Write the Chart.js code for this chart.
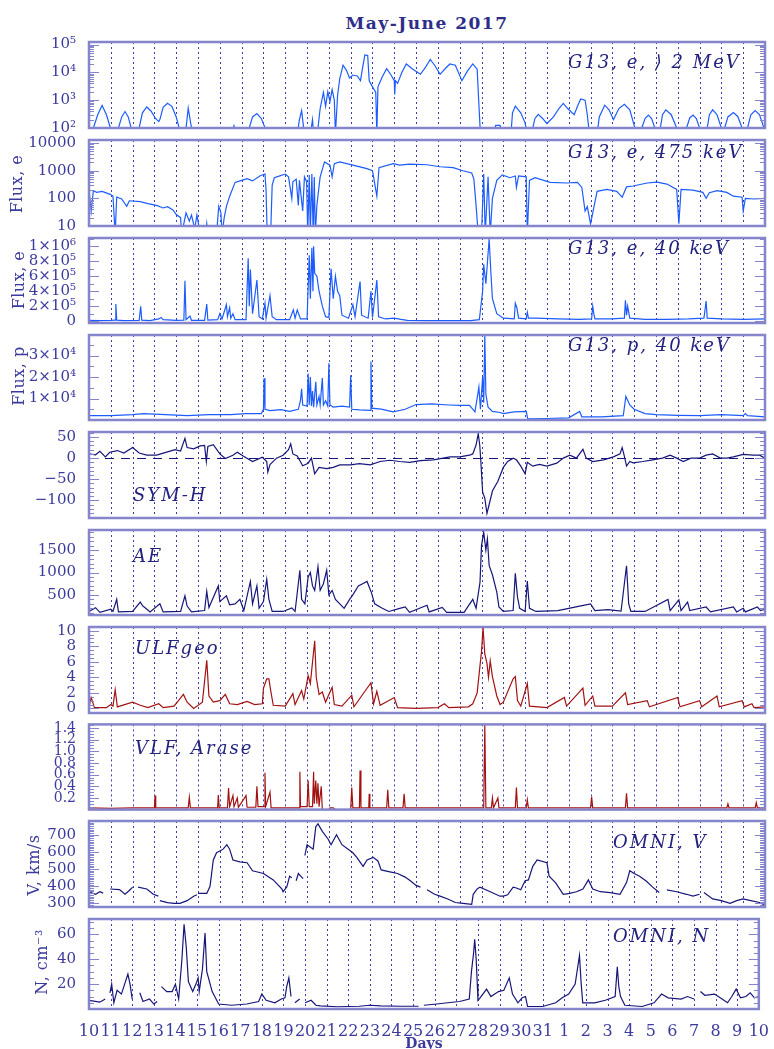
<!DOCTYPE html>
<html>
<head>
<meta charset="utf-8">
<script src="https://cdn.jsdelivr.net/npm/chart.js@4.4.0/dist/chart.umd.min.js"></script>
<style>
  body { margin: 0; background: #fff; }
  #wrap { position: relative; width: 774px; height: 1049px; overflow: hidden; }
  #wrap canvas { position: absolute; left: 0; }
  #title {
    position: absolute; left: 0; top: 13px; width: 854px; text-align: center;
    font: bold 17px "DejaVu Serif"; letter-spacing: 1.5px; color: #2e2e8a; line-height: 20px;
  }
</style>
</head>
<body>
<div id="wrap">
  <div id="title">May-June 2017</div>
</div>
<script>
// x axis: days since 10 May 2017, 00 UT
const dayLabels = ['10','11','12','13','14','15','16','17','18','19','20','21','22','23','24','25',
  '26','27','28','29','30','31','1','2','3','4','5','6','7','8','9','10'];

// [day, value] pairs
const e2MeV = [
  [0,60],[0.2,100],[0.4,300],[0.6,650],[0.8,300],[1.0,90],[1.1,60],
  [1.35,100],[1.5,250],[1.65,390],[1.8,250],[1.95,90],[2.1,60],
  [2.3,100],[2.45,350],[2.65,570],[2.85,400],[3.05,220],[3.2,170],[3.25,200],[3.4,550],[3.6,770],[3.8,600],[4.0,250],[4.15,90],[4.3,60],
  [4.45,100],[4.55,520],[4.7,100],[4.8,60],
  [6.55,60],[6.65,120],[6.75,60],
  [7.35,100],[7.5,250],[7.7,330],[7.9,220],[8.1,90],[8.2,60],
  [9.55,60],[9.65,200],[9.75,420],[9.85,90],[9.95,60],
  [10.15,60],[10.25,200],[10.3,60],[10.4,60],
  [10.5,100],[10.6,500],[10.75,1900],[10.85,600],[10.95,2000],[11.05,900],[11.15,2400],[11.25,1000],[11.3,60],
  [11.4,1500],[11.5,6000],[11.65,18000],[11.8,12000],[11.95,6300],[12.1,8000],[12.3,7400],[12.45,5000],
  [12.55,15000],[12.65,42000],[12.78,40000],[12.85,5000],[13.0,3000],[13.15,1900],[13.2,60],[13.25,3000],
  [13.45,7000],[13.65,13500],[13.85,8000],[14.0,5000],[14.02,1600],[14.05,5000],[14.15,4000],[14.35,10000],
  [14.55,20000],[14.85,13000],[15.2,8500],[15.45,16000],[15.65,29000],[15.85,18000],[16.1,8500],[16.35,14000],
  [16.55,20000],[16.8,18000],[17.1,5000],[17.35,11000],[17.6,20000],[17.8,13000],[17.87,1000],[17.95,60],
  [18.55,60],[18.65,125],[18.85,125],[18.95,60],
  [19.35,60],[19.42,350],[19.55,610],[19.8,350],[20.0,150],[20.1,60],
  [20.35,100],[20.45,220],[20.6,310],[20.8,220],[21.0,145],[21.3,250],[21.55,500],[21.75,770],[21.95,500],
  [22.25,300],[22.4,600],[22.55,1100],[22.75,1000],[22.85,300],[22.95,60],
  [23.3,60],[23.4,250],[23.65,660],[23.85,450],[24.05,200],[24.3,500],[24.55,710],[24.8,450],[25.05,90],[25.15,60],
  [25.35,100],[25.5,220],[25.65,290],[25.8,220],[25.95,100],[26.05,60],
  [26.2,100],[26.3,300],[26.45,450],[26.7,300],[26.95,100],[27.05,60],
  [27.4,100],[27.55,230],[27.7,290],[27.85,220],[28.0,100],[28.1,60],
  [28.35,100],[28.45,300],[28.6,450],[28.8,300],[29.0,100],[29.08,60],
  [29.15,100],[29.3,250],[29.55,360],[29.75,260],[29.95,100],[30.05,60],
  [30.2,100],[30.35,300],[30.55,420],[30.75,300],[30.95,100],[31,60]
];

const e475 = [
  [0,210],[0.1,35],[0.2,190],[0.35,165],[0.6,180],[0.97,140],[1.1,120],[1.2,5],[1.27,112],[1.5,95],[1.73,52],
  [1.85,82],[2.35,76],[2.7,65],[3.1,56],[3.4,45],[3.6,50],[3.85,38],[4.0,26],[4.2,20],[4.25,5],[4.45,30],
  [4.6,15],[4.7,25],[4.85,8],[4.95,25],[5.1,5],
  [5.35,5],[5.4,12],[5.45,5],
  [5.85,5],[5.95,52],[6.05,30],[6.1,5],[6.2,20],[6.3,50],[6.45,120],[6.7,380],[7.0,450],[7.25,520],[7.5,430],
  [7.85,660],[8.07,760],[8.12,200],[8.17,5],[8.33,5],[8.4,300],[8.5,560],[8.75,650],[9.0,760],[9.15,600],
  [9.3,100],[9.35,400],[9.5,500],[9.6,56],[9.65,450],[9.8,35],[9.88,600],[9.98,400],[10.03,5],[10.1,700],
  [10.15,5],[10.22,760],[10.28,5],[10.33,600],[10.38,5],[10.45,56],[10.6,600],[10.8,2100],[11.05,1600],
  [11.15,600],[11.25,1800],[11.5,2100],[12.1,1600],[12.75,1200],[13.0,1000],[13.2,120],[13.3,1300],
  [13.95,1800],[14.25,1600],[14.7,1750],[15.5,1650],[16.1,1400],[16.7,1300],[17.15,1000],[17.55,830],
  [17.65,500],[17.75,56],[17.85,5],[18.0,5],[18.1,760],[18.17,5],[18.3,600],[18.4,5],[18.5,100],[18.7,450],
  [18.95,710],[19.3,560],[19.55,650],[19.6,250],[19.7,650],[20.05,600],[20.1,5],[20.2,450],[20.45,560],
  [21.15,380],[21.9,360],[22.4,380],[22.6,250],[22.75,35],[22.85,50],[23.0,12],[23.3,180],[23.75,210],
  [24.2,180],[24.45,110],[24.65,260],[24.95,280],[25.6,360],[26.05,390],[26.5,330],[26.95,210],[27.05,12],
  [27.15,210],[27.7,200],[28.15,165],[28.3,100],[28.45,160],[28.8,190],[29.25,165],[29.55,120],[29.95,110],
  [30.0,35],[30.1,100],[30.5,95],[31,100]
];

const e40 = [
  [0,12000],[0.5,8000],[1.0,10000],[1.2,15000],[1.23,230000],[1.27,15000],[1.6,8000],[2.3,10000],[2.37,200000],
  [2.42,15000],[2.8,8000],[3.2,30000],[3.3,50000],[3.4,20000],[4.0,10000],[4.35,15000],[4.4,540000],[4.45,20000],
  [4.63,70000],[4.7,12000],[5.3,10000],[5.4,230000],[5.45,15000],[5.9,20000],[6.0,100000],[6.1,30000],
  [6.3,220000],[6.35,60000],[6.45,180000],[6.5,40000],[6.6,100000],[6.7,20000],[7.2,20000],[7.3,840000],
  [7.35,200000],[7.4,690000],[7.5,100000],[7.7,550000],[7.8,60000],[7.95,30000],[8.07,240000],[8.12,40000],
  [8.3,340000],[8.4,60000],[8.6,20000],[9.2,20000],[9.37,150000],[9.45,40000],[9.55,150000],[9.7,30000],
  [10.0,30000],[10.1,880000],[10.15,300000],[10.22,980000],[10.27,400000],[10.3,1000000],[10.35,640000],
  [10.45,600000],[10.55,400000],[10.7,200000],[10.85,60000],[11.0,50000],[11.1,700000],[11.2,300000],
  [11.3,600000],[11.4,400000],[11.5,340000],[11.6,80000],[11.9,40000],[12.1,220000],[12.2,60000],
  [12.43,530000],[12.5,80000],[12.8,40000],[12.93,400000],[13.0,50000],[13.2,550000],[13.28,60000],
  [13.6,30000],[14.0,40000],[14.3,25000],[14.6,12000],[15.5,8000],[16.5,8000],[17.5,8000],[17.9,20000],
  [18.05,400000],[18.1,760000],[18.2,500000],[18.35,1100000],[18.42,700000],[18.5,300000],[18.7,100000],
  [19.0,40000],[19.5,30000],[19.55,240000],[19.62,180000],[19.7,40000],[20.05,30000],[20.1,120000],
  [20.15,40000],[20.5,40000],[21.5,30000],[22.5,25000],[23.05,30000],[23.1,200000],[23.15,100000],
  [23.2,30000],[24.0,30000],[24.55,40000],[24.6,280000],[24.65,80000],[24.7,200000],[24.8,40000],
  [25.5,25000],[26.5,25000],[27.5,30000],[28.2,40000],[28.3,270000],[28.35,40000],[29.0,30000],
  [30.0,25000],[31,30000]
];

const p40 = [
  [0,2000],[1.0,2000],[2.0,2500],[2.5,3000],[3.5,2500],[4.5,2000],[5.5,2500],[6.5,2500],[7.2,3000],[7.9,3000],
  [8.0,5000],[8.03,19500],[8.07,5000],[8.3,4400],[8.8,4800],[9.2,4000],[9.6,5000],[9.7,9300],[9.75,14500],
  [9.8,7000],[10.0,6500],[10.05,21700],[10.1,7000],[10.15,20000],[10.2,6500],[10.25,13500],[10.3,6000],
  [10.4,17800],[10.45,7000],[10.55,11000],[10.6,7000],[10.7,19500],[10.75,7000],[10.85,9000],[10.95,6500],
  [11.0,26400],[11.05,7000],[11.2,6000],[11.6,6500],[11.95,6000],[12.0,20800],[12.05,5000],[12.4,4700],
  [12.9,4500],[12.93,27200],[12.97,5500],[13.4,5100],[13.95,3800],[14.5,5000],[15.0,7200],[15.7,7500],
  [16.5,7000],[17.0,6800],[17.45,6800],[17.7,3800],[17.88,15300],[17.95,5000],[18.05,20000],[18.1,8000],
  [18.15,39500],[18.2,12000],[18.3,6000],[18.5,4000],[18.85,3500],[19.0,3000],[19.5,3800],[20.05,4000],
  [20.12,500],[21.0,700],[22.0,1000],[22.5,4000],[22.6,1500],[23.5,1500],[24.5,2000],[24.62,11000],
  [24.8,7000],[25.0,5000],[25.5,3000],[26,2500],[27,2200],[28,2000],[29,2500],[30,2000],[30.1,3000],
  [30.2,2000],[31,1500]
];

const symH = [
  [0,10],[0.3,8],[0.5,16],[0.75,3],[0.95,14],[1.3,18],[1.6,12],[2.0,25],[2.3,12],[2.65,7],[3.1,7],[3.6,15],
  [3.95,20],[4.2,17],[4.4,47],[4.5,25],[4.8,22],[5.1,29],[5.3,30],[5.38,-8],[5.45,28],[5.7,32],[6.0,10],
  [6.25,-1],[6.6,7],[6.8,14],[7.07,5],[7.5,-8],[7.95,2],[8.15,-8],[8.2,-33],[8.3,-15],[8.6,0],[8.9,7],
  [9.15,20],[9.25,34],[9.35,10],[9.55,5],[9.8,-18],[10.05,-12],[10.2,0],[10.35,-37],[10.55,-22],[10.9,-25],
  [11.2,-22],[11.5,-16],[12.0,-16],[12.4,-13],[12.9,-16],[13.35,-8],[13.8,-5],[14.25,-8],[14.7,-10],
  [15.2,-6],[15.8,-4],[16.55,3],[17.0,3],[17.45,7],[17.6,10],[17.75,31],[17.85,58],[17.92,30],[17.97,-8],
  [18.05,-80],[18.15,-95],[18.25,-131],[18.35,-110],[18.5,-78],[18.75,-55],[19.0,-22],[19.2,-8],[19.45,0],
  [19.6,-4],[19.8,-19],[20.0,-37],[20.1,-10],[20.35,-19],[20.65,-15],[21.0,-19],[21.45,-12],[21.75,0],
  [22.05,7],[22.35,0],[22.65,21],[22.8,0],[23.1,-8],[23.6,-4],[24.05,3],[24.35,10],[24.45,25],[24.55,5],
  [24.65,-19],[24.8,-8],[24.95,-11],[25.4,-8],[25.85,-4],[26.3,0],[26.65,7],[26.95,0],[27.25,-8],[27.6,0],
  [28.0,0],[28.3,7],[28.6,10],[28.95,0],[29.25,0],[29.55,3],[30.0,9],[30.45,7],[30.75,7],[31,0]
];

const ae = [
  [0,130],[0.3,215],[0.5,110],[1.0,180],[1.1,130],[1.27,400],[1.35,120],[2.0,130],[2.35,340],[2.45,260],
  [2.6,200],[2.8,120],[3.25,300],[3.4,120],[4.2,130],[4.4,480],[4.5,250],[4.7,120],[5.3,150],[5.4,580],
  [5.5,220],[5.93,700],[6.0,350],[6.3,480],[6.45,280],[6.7,300],[6.92,400],[7.1,150],[7.4,800],[7.5,300],
  [7.7,700],[7.8,200],[8.0,350],[8.15,850],[8.25,400],[8.4,130],[8.9,130],[9.3,210],[9.45,130],[9.67,1050],
  [9.75,400],[9.9,300],[10.05,900],[10.15,1000],[10.25,700],[10.35,600],[10.5,1130],[10.6,600],[10.75,750],
  [10.9,1050],[11.0,500],[11.15,600],[11.3,400],[11.5,300],[11.7,200],[11.95,400],[12.1,500],[12.35,700],
  [12.55,750],[12.75,800],[12.95,550],[13.1,300],[13.45,200],[13.75,130],[14.25,200],[14.5,230],[14.7,110],
  [15.5,270],[15.6,120],[16.2,220],[16.4,110],[17.2,110],[17.6,400],[17.75,200],[17.93,780],[18.0,1600],
  [18.1,1900],[18.2,1500],[18.27,1750],[18.35,1160],[18.5,950],[18.7,560],[18.8,230],[19.0,130],[19.45,150],
  [19.55,980],[19.65,450],[19.75,200],[20.0,130],[20.1,810],[20.2,200],[20.5,130],[21.5,150],[22.0,200],
  [22.5,250],[23.0,300],[23.2,150],[23.8,170],[24.4,140],[24.65,1150],[24.75,300],[24.85,130],[25.5,130],
  [26.55,400],[26.65,150],[27.05,390],[27.15,150],[27.45,340],[27.55,150],[28.3,230],[28.5,120],[29.55,230],
  [29.7,120],[30.0,200],[30.1,120],[30.65,230],[30.8,150],[31,180]
];

const ulf = [
  [0,0.2],[0.1,1.4],[0.25,0.1],[0.8,0.1],[1.0,0.5],[1.1,0.3],[1.2,2.4],[1.3,0.2],[2.0,0.8],[2.35,0.4],
  [2.7,0.1],[3.2,0.6],[3.4,0.1],[3.9,0.3],[4.33,1.8],[4.5,0.8],[4.8,0],[5.2,0.8],[5.4,6.2],[5.5,1.6],
  [5.7,0.8],[6.0,1.0],[6.25,1.8],[6.45,0.6],[6.8,0.5],[7.25,0.9],[7.6,0.5],[7.95,0.6],[8.0,2.6],[8.15,3.8],
  [8.25,3.8],[8.35,2.0],[8.45,0.4],[9.0,0.3],[9.35,1.9],[9.45,0.5],[9.75,2.3],[9.85,1.2],[10.05,4.2],
  [10.15,3.2],[10.35,8.7],[10.42,4.0],[10.55,1.8],[10.7,2.1],[10.85,0.8],[11.0,1.8],[11.15,2.7],[11.25,0.5],
  [11.6,0.3],[12.05,1.7],[12.15,0.2],[12.93,3.3],[13.05,0.6],[13.2,2.2],[13.35,0.4],[14.0,1.4],[14.15,0.1],
  [15.0,0],[16.0,0.1],[16.3,0.6],[16.5,0.1],[17.4,0.2],[17.6,0.6],[17.8,2.0],[17.9,4.7],[18.0,7.3],
  [18.07,10.4],[18.15,7.0],[18.25,5.8],[18.32,4.0],[18.4,6.1],[18.5,4.1],[18.7,1.6],[18.85,0.5],[19.0,0.8],
  [19.45,3.8],[19.55,4.1],[19.65,1.0],[19.8,0.3],[20.1,3.2],[20.2,0.3],[21.0,0.1],[21.8,1.4],[21.9,0.3],
  [22.65,2.6],[22.75,0.4],[23.1,1.6],[23.2,0.3],[24.0,0.3],[24.6,2.0],[24.7,0.5],[25.6,1.0],[25.7,0.2],
  [27.0,1.4],[27.1,0.2],[28.0,1.0],[28.1,0.2],[28.8,1.6],[28.9,0.2],[29.95,1.0],[30.05,0.2],[30.4,0.6],
  [30.5,0.1],[31,0.2]
];

const vlf = [
  [0,0.03],[1,0.02],[2,0.03],[3.0,0.03],[3.03,0.24],[3.06,0.03],[4.55,0.03],[4.6,0.21],[4.65,0.03],
  [5.9,0.03],[5.93,0.25],[5.97,0.03],[6.35,0.03],[6.4,0.37],[6.45,0.05],[6.6,0.24],[6.65,0.05],[6.8,0.2],
  [6.85,0.04],[7.2,0.24],[7.25,0.04],[7.65,0.04],[7.7,0.4],[7.75,0.05],[8.03,0.05],[8.07,0.63],[8.1,0.05],
  [8.3,0.3],[8.35,0.03],[9.64,0.03],[9.67,0.65],[9.7,0.05],[10.0,0.05],[10.05,0.5],[10.1,0.05],[10.25,0.05],
  [10.3,0.65],[10.33,0.1],[10.4,0.5],[10.45,0.1],[10.5,0.45],[10.55,0.05],[10.65,0.4],[10.7,0.0],[11.0,0.0],
  [11.05,0.03],[11.2,0.03],[11.3,0.0],[12.0,0.0],[12.05,0.38],[12.1,0.03],[12.4,0.03],[12.43,0.67],
  [12.47,0.03],[12.83,0.03],[12.85,0.27],[12.88,0.03],[13.65,0.03],[13.7,0.34],[13.75,0.03],[14.4,0.03],
  [14.45,0.27],[14.5,0.03],[18.1,0.03],[18.15,1.45],[18.2,0.03],[18.45,0.03],[18.5,0.2],[18.55,0.03],
  [18.75,0.2],[18.8,0.03],[19.55,0.03],[19.6,0.38],[19.65,0.03],[20.05,0.03],[20.1,0.17],[20.15,0.03],
  [23.0,0.03],[23.05,0.22],[23.1,0.03],[24.6,0.03],[24.65,0.28],[24.7,0.03],[29.25,0.03],[29.3,0.1],
  [29.35,0.03],[30.55,0.03],[30.6,0.12],[30.65,0.03],[31,0.03]
];

const vsw = [
  [0,368],[0.3,353],[0.5,368],[0.65,360],[0.7,null],[0.97,384],[1.4,380],[1.65,353],[1.85,375],[2.0,395],
  [2.1,null],[2.25,395],[2.65,384],[2.95,353],[3.18,342],[3.2,null],[3.25,316],[3.6,305],[3.9,300],[4.17,300],
  [4.5,316],[4.8,342],[4.95,350],[4.97,null],[5.0,358],[5.4,358],[5.55,400],[5.7,553],[5.85,595],[6.15,616],
  [6.32,642],[6.45,616],[6.6,553],[6.92,542],[7.25,537],[7.5,490],[8.0,474],[8.45,437],[8.85,384],[8.9,368],
  [9.07,395],[9.2,458],[9.3,450],[9.35,null],[9.5,432],[9.6,474],[9.75,453],[9.82,445],[9.85,null],[9.9,579],
  [10.0,642],[10.28,616],[10.4,747],[10.5,763],[10.7,720],[10.97,674],[11.1,642],[11.35,700],[11.6,642],
  [12.1,595],[12.28,568],[12.57,516],[12.75,553],[13.03,568],[13.25,547],[13.4,495],[13.8,484],[14.15,474],
  [14.5,453],[14.75,430],[15.0,405],[15.2,395],[15.3,null],[15.5,379],[15.85,353],[16.1,342],[16.45,326],
  [16.8,305],[17.15,300],[17.55,295],[17.62,353],[17.8,384],[17.93,395],[18.4,368],[18.85,342],[19.0,342],
  [19.2,350],[19.45,395],[19.6,390],[19.8,379],[20.0,432],[20.15,437],[20.35,516],[20.55,553],[21.0,537],
  [21.1,458],[21.4,420],[21.75,353],[22.05,358],[22.35,368],[22.65,384],[22.9,437],[23.1,384],[23.45,368],
  [23.9,363],[24.35,353],[24.65,421],[24.8,490],[25.0,474],[25.25,458],[25.55,430],[25.85,395],[26.15,363],
  [26.25,null],[26.5,379],[26.95,368],[27.4,353],[27.7,342],[28.0,353],[28.05,null],[28.2,363],[28.6,326],
  [29.0,316],[29.4,300],[29.7,316],[30.0,326],[30.35,316],[30.75,305],[31,290]
];

const nsw = [
  [0,7],[0.5,5.5],[0.75,8],[0.8,null],[0.97,13],[1.05,20],[1.15,5],[1.3,15],[1.5,12],[1.8,28],[1.9,20],
  [2.0,8],[2.05,null],[2.35,13],[2.5,6],[2.8,8],[3.0,4],[3.15,6],[3.2,null],[3.35,18],[3.6,14],[3.85,14],
  [4.0,20],[4.15,8],[4.3,40],[4.4,68],[4.5,50],[4.6,22],[4.8,14],[4.95,20],[5.05,25],[5.1,14],[5.25,32],
  [5.37,61],[5.45,30],[5.7,14],[6.0,4],[6.6,3],[7.3,4],[7.85,6],[8.0,12],[8.2,7],[8.6,5],[8.9,8],[9.07,9],
  [9.15,18],[9.25,25],[9.35,10],[9.4,null],[9.53,5],[9.75,8],[9.8,null],[10.0,5],[10.28,7],[10.5,3],
  [10.7,2.5],[11.5,1.8],[12.5,2.2],[13.0,3],[13.5,2.5],[14.5,2.2],[15.25,2.2],[15.3,null],[15.5,3],[16.1,4],
  [16.6,5],[17.15,6],[17.6,8],[17.7,30],[17.8,45],[17.85,56],[17.92,40],[17.97,20],[18.0,7],[18.1,9],
  [18.4,16],[18.6,10],[18.95,14],[19.2,15],[19.45,25],[19.6,12],[19.85,5],[20.05,9],[20.2,10],[20.3,2],
  [21.0,2],[21.6,5],[21.9,9],[22.2,12],[22.5,20],[22.7,43],[22.78,20],[22.85,5],[23.4,5],[23.9,7],[24.35,10],
  [24.45,34],[24.52,18],[24.6,10],[24.8,3],[25.6,2],[26.15,5],[26.5,12],[26.8,9],[27.4,8],[27.7,10],[28.0,8],
  [28.05,null],[28.3,14],[28.5,11],[28.95,12],[29.3,8],[29.55,5],[29.75,10],[29.95,16],[30.15,9],[30.4,10],
  [30.6,13],[30.8,9],[31,10]
];

// tick values and their labels
const ticks2MeV = [100, 1000, 10000, 100000];
const labels2MeV = ['10²', '10³', '10⁴', '10⁵'];
const ticks475 = [10, 100, 1000, 10000];
const labels475 = ['10', '100', '1000', '10000'];
const ticksE40 = [0, 200000, 400000, 600000, 800000, 1000000];
const labelsE40 = ['0', '2×10⁵', '4×10⁵', '6×10⁵', '8×10⁵', '1×10⁶'];
const ticksP40 = [10000, 20000, 30000];
const labelsP40 = ['1×10⁴', '2×10⁴', '3×10⁴'];
const ticksSymH = [-100, -50, 0, 50];
const labelsSymH = ['−100', '−50', '0', '50'];
const ticksAE = [500, 1000, 1500];
const ticksULF = [0, 2, 4, 6, 8, 10];
const ticksVLF = [0.2, 0.4, 0.6, 0.8, 1.0, 1.2, 1.4];
const labelsVLF = ['0.2', '0.4', '0.6', '0.8', '1.0', '1.2', '1.4'];
const ticksV = [300, 400, 500, 600, 700];
const ticksN = [20, 40, 60];

const BLUE = '#1c5cff', NAVY = '#16167a', RED = '#a31212';
const AXIS = '#3b3b9e', FRAME = '#8585cc', GRID = '#3d3db0', LABEL = '#23237f';
const FONT = '"DejaVu Serif"';

function logMinor(lo, hi) {
  const out = [];
  for (let p = lo; p < hi; p++) for (let k = 2; k <= 9; k++) out.push(k * Math.pow(10, p));
  return out;
}
function linMinor(min, max, step) {
  const out = [];
  for (let v = Math.ceil(min / step) * step; v <= max; v += step) out.push(v);
  return out;
}

const panels = [
  { data: e2MeV, top: 38, bottom: 132, log: true, min: 100, max: 123000, ticks: ticks2MeV, labels: labels2MeV,
    minor: logMinor(2, 5), color: BLUE, label: 'G13, e, ⟩ 2 MeV', lx: 568, ly: 63 },
  { data: e475, top: 136, bottom: 230, log: true, min: 10, max: 13000, ticks: ticks475, labels: labels475,
    minor: logMinor(1, 4), color: BLUE, label: 'G13, e, 475 keV', lx: 568, ly: 153, title: 'Flux, e', tx: 18, ty: 184 },
  { data: e40, top: 234, bottom: 327, min: -24000, max: 1110000, ticks: ticksE40, labels: labelsE40,
    minor: linMinor(0, 1100000, 100000), color: BLUE, label: 'G13, e, 40 keV', lx: 568, ly: 249, title: 'Flux, e', tx: 20, ty: 280 },
  { data: p40, top: 331, bottom: 424, min: 0, max: 39600, ticks: ticksP40, labels: labelsP40,
    minor: linMinor(0, 39600, 5000), color: BLUE, label: 'G13, p, 40 keV', lx: 568, ly: 346, title: 'Flux, p', tx: 20, ty: 376 },
  { data: symH, top: 428, bottom: 522, min: -142, max: 62, ticks: ticksSymH, labels: labelsSymH, zero: true,
    minor: linMinor(-142, 62, 10), color: NAVY, label: 'SYM-H', lx: 133, ly: 496 },
  { data: ae, top: 526, bottom: 619, min: 51, max: 1949, ticks: ticksAE, labels: ticksAE.map(String),
    minor: linMinor(51, 1949, 100), color: NAVY, label: 'AE', lx: 133, ly: 557 },
  { data: ulf, top: 623, bottom: 717, min: -0.59, max: 10.47, ticks: ticksULF, labels: ticksULF.map(String),
    minor: linMinor(-0.5, 10.47, 0.5), color: RED, label: 'ULFgeo', lx: 135, ly: 649 },
  { data: vlf, top: 721, bottom: 813, min: 0, max: 1.46, ticks: ticksVLF, labels: labelsVLF, fontSize: 14,
    minor: linMinor(0, 1.46, 0.05), color: RED, label: 'VLF, Arase', lx: 135, ly: 749 },
  { data: vsw, top: 817, bottom: 911, min: 279, max: 780, ticks: ticksV, labels: ticksV.map(String),
    minor: linMinor(279, 780, 10), color: NAVY, label: 'OMNI, V', lx: 613, ly: 843, title: 'V, km/s', tx: 35, ty: 865 },
  { data: nsw, top: 915, bottom: 1009, min: 0, max: 72.3, ticks: ticksN, labels: ticksN.map(String),
    minor: linMinor(0, 72.3, 5), color: NAVY, label: 'OMNI, N', lx: 613, ly: 937, title: 'N, cm⁻³', tx: 43, ty: 962 }
];

const panelDecor = {
  id: 'panelDecor',
  beforeDatasetsDraw(chart, args, o) {
    const { ctx, chartArea: a, scales: { x, y } } = chart;
    ctx.save();
    ctx.strokeStyle = GRID;
    ctx.lineWidth = 1;
    ctx.setLineDash([2, 3]);
    for (let d = 1; d < dayLabels.length - 1; d++) {
      const px = Math.round(x.getPixelForValue(d)) + 0.5;
      ctx.beginPath(); ctx.moveTo(px, a.top); ctx.lineTo(px, a.bottom); ctx.stroke();
    }
    if (o.zero) {
      const py = Math.round(y.getPixelForValue(0)) + 0.5;
      ctx.setLineDash([9, 7]);
      ctx.strokeStyle = NAVY;
      ctx.beginPath(); ctx.moveTo(a.left, py); ctx.lineTo(a.right, py); ctx.stroke();
    }
    ctx.restore();
  },
  afterDatasetsDraw(chart, args, o) {
    const { ctx, chartArea: a, scales: { y } } = chart;
    const off = chart.canvas.offsetTop;
    ctx.save();
    ctx.strokeStyle = FRAME;
    ctx.lineWidth = 1;
    const tick = (v, len) => {
      const py = Math.round(y.getPixelForValue(v)) + 0.5;
      if (py < a.top || py > a.bottom) return;
      ctx.beginPath();
      ctx.moveTo(a.left, py); ctx.lineTo(a.left + len, py);
      ctx.moveTo(a.right, py); ctx.lineTo(a.right - len, py);
      ctx.stroke();
    };
    o.minor.forEach(v => tick(v, 5));
    y.ticks.forEach(t => tick(t.value, 10));
    ctx.lineWidth = 2.5;
    ctx.strokeRect(a.left, a.top, a.right - a.left, a.bottom - a.top);

    ctx.fillStyle = LABEL;
    ctx.textBaseline = 'middle';
    ctx.textAlign = 'left';
    ctx.font = 'italic 18px ' + FONT;
    ctx.letterSpacing = '2px';
    ctx.fillText(o.label, o.lx, o.ly - off);

    if (o.title) {
      ctx.fillStyle = AXIS;
      ctx.font = '16px ' + FONT;
      ctx.letterSpacing = '0.5px';
      ctx.textAlign = 'center';
      ctx.translate(o.tx, o.ty - off);
      ctx.rotate(-Math.PI / 2);
      ctx.fillText(o.title, 0, 0);
    }
    ctx.restore();
  }
};
Chart.register(panelDecor);

const wrap = document.getElementById('wrap');
panels.forEach((p, i) => {
  const last = i === panels.length - 1;
  const pad = 10;
  const cv = document.createElement('canvas');
  cv.width = 774;
  cv.height = p.bottom - p.top + pad + (last ? 40 : pad);
  cv.style.top = (p.top - pad) + 'px';
  wrap.appendChild(cv);

  new Chart(cv, {
    type: 'line',
    data: {
      datasets: [{
        data: p.data.map(([x, y]) => ({ x, y })),
        borderColor: p.color,
        borderWidth: 1.2,
        pointRadius: 0,
        tension: 0,
        fill: false
      }]
    },
    options: {
      responsive: false,
      animation: false,
      events: [],
      layout: { padding: { top: pad, bottom: last ? 0 : pad, left: 0, right: 9 } },
      plugins: {
        legend: { display: false },
        tooltip: { enabled: false },
        panelDecor: { minor: p.minor, zero: !!p.zero, label: p.label, lx: p.lx, ly: p.ly,
          title: p.title, tx: p.tx, ty: p.ty }
      },
      scales: {
        x: {
          type: 'linear', min: 0, max: 31, display: last,
          afterFit: s => { if (last) s.height = 40; },
          grid: { display: false }, border: { display: false },
          ticks: { stepSize: 1, autoSkip: false, maxRotation: 0, padding: 5, color: AXIS,
            font: { family: FONT, size: 16 }, callback: v => dayLabels[Math.round(v)] },
          title: { display: true, text: 'Days', color: AXIS, padding: { top: 0, bottom: -4 },
            font: { family: FONT, size: 14, weight: 'bold' } }
        },
        y: {
          type: p.log ? 'logarithmic' : 'linear', min: p.min, max: p.max,
          afterFit: s => { s.width = 89; },
          afterBuildTicks: s => { s.ticks = p.ticks.map(v => ({ value: v })); },
          grid: { display: false }, border: { display: false },
          ticks: { autoSkip: false, padding: 5, color: AXIS,
            font: { family: FONT, size: p.fontSize || 15 },
            callback: (v, idx) => p.labels[idx] }
        }
      }
    }
  });
});
</script>
</body>
</html>
